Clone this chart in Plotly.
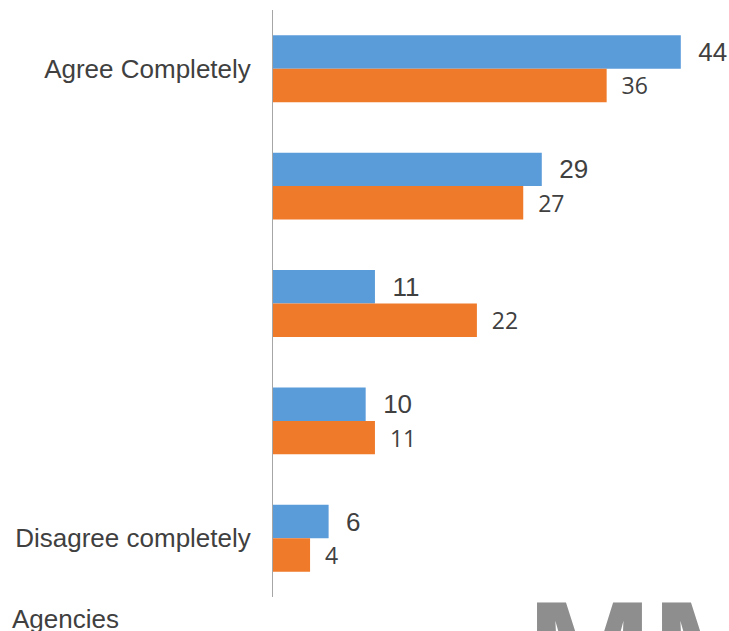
import plotly.graph_objects as go

# Survey scale, top to bottom; only the two ends carry a visible label
scale_points = ["Agree Completely", "Agree", "Neutral", "Disagree", "Disagree completely"]
scale_labels = ["Agree Completely", "", "", "", "Disagree completely"]

# Share of respondents (%) per group
series_a_name = "Agencies"
series_a_values = [44, 29, 11, 10, 6]
series_b_name = "Advertisers"
series_b_values = [36, 27, 22, 11, 4]

BLUE = "#5A9BDA"
ORANGE = "#EF7A2A"
TEXT = "#404040"
SANS = "Liberation Sans"
PAD = "\u00a0\u00a0"

fig = go.Figure()
fig.add_trace(go.Bar(
    y=scale_points, x=series_a_values, orientation="h", name=series_a_name,
    marker=dict(color=BLUE, line=dict(width=0)),
    text=[PAD + str(v) for v in series_a_values], textposition="outside",
    textfont=dict(family=SANS, size=26, color=TEXT),
    constraintext="none", cliponaxis=False,
))
fig.add_trace(go.Bar(
    y=scale_points, x=series_b_values, orientation="h", name=series_b_name,
    marker=dict(color=ORANGE, line=dict(width=0)),
    text=[PAD + str(v) for v in series_b_values], textposition="outside",
    textfont=dict(family="Open Sans", size=23, color=TEXT),
    constraintext="none", cliponaxis=False,
))

fig.update_layout(
    width=729, height=631,
    margin=dict(l=273, r=0, t=10, b=34),
    paper_bgcolor="white", plot_bgcolor="white",
    barmode="group", bargap=0.43, bargroupgap=0,
    showlegend=False,
    font=dict(family=SANS, size=26, color=TEXT),
    xaxis=dict(range=[0, 49.2], visible=False, fixedrange=True),
    yaxis=dict(
        categoryorder="array", categoryarray=scale_points,
        autorange="reversed",
        tickmode="array", tickvals=scale_points, ticktext=scale_labels,
        ticks="", ticklabelstandoff=16,
        showline=True, linecolor="#A6A6A6", linewidth=1,
        showgrid=False, zeroline=False,
        tickfont=dict(family=SANS, size=26, color=TEXT),
    ),
)

# Legend caption under the chart
fig.add_annotation(
    text=series_a_name, xref="paper", yref="paper",
    x=(10 - 273) / 456, y=-0.009, xanchor="left", yanchor="top",
    showarrow=False,
    font=dict(family=SANS, size=26, color=TEXT),
)

# Corner logo lettering, cut by the page edge
fig.add_annotation(
    text="<b>MM</b>", xref="paper", yref="paper",
    x=(525 - 273) / 456, y=0.05, xanchor="left", yanchor="top",
    showarrow=False,
    font=dict(family=SANS, size=150, color="#8E8E8E"),
)

fig.write_html("out.html")
